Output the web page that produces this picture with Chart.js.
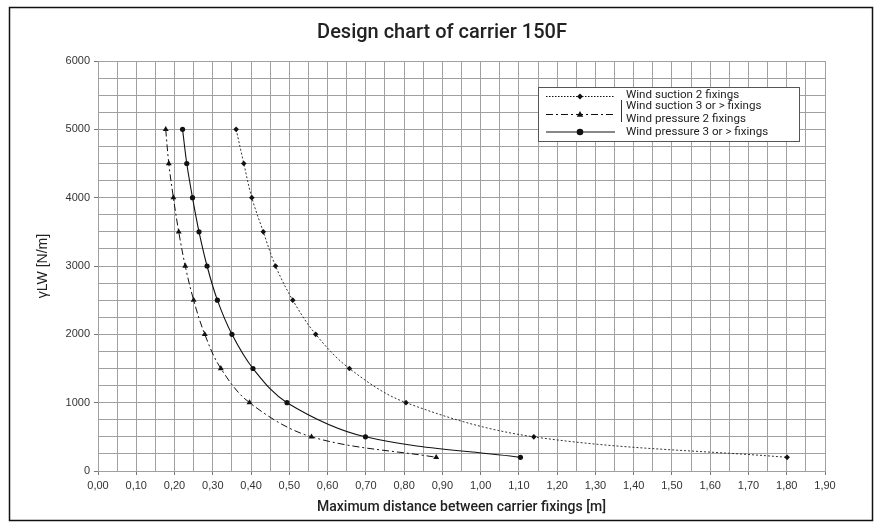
<!DOCTYPE html>
<html>
<head>
<meta charset="utf-8">
<title>Design chart of carrier 150F</title>
<script src="https://cdn.jsdelivr.net/npm/chart.js@4.4.1/dist/chart.umd.min.js"></script>
<style>
  html, body { margin: 0; padding: 0; background: #fff; }
  #wrap { width: 878px; height: 530px; position: relative; }
</style>
</head>
<body>
<div id="wrap"><canvas id="designChart"></canvas></div>
<script>
// ============================================================
// Design chart of carrier 150F
// - x: max distance between fixings [m], y: load γLW [N/m]
// ============================================================

// -------------------------------
// data
// -------------------------------
const chartTitle = "Design chart of carrier 150F";
const xAxisTitle = "Maximum distance between carrier fixings [m]";
const yAxisTitle = "γLW [N/m]";

const seriesNames = [
  "Wind suction 2 fixings",
  "Wind suction 3 or > fixings",
  "Wind pressure 2 fixings",
  "Wind pressure 3 or > fixings"
];

// load levels shared by every curve
const loadLevels = [5000, 4500, 4000, 3500, 3000, 2500, 2000, 1500, 1000, 500, 200];

const suction2Dist  = [0.361, 0.381, 0.402, 0.432, 0.464, 0.509, 0.569, 0.657, 0.805, 1.139, 1.801];
const suction3Dist  = []; // listed in the legend, no curve drawn
const pressure2Dist = [0.177, 0.185, 0.197, 0.211, 0.228, 0.250, 0.279, 0.321, 0.396, 0.558, 0.884];
const pressure3Dist = [0.221, 0.232, 0.247, 0.264, 0.285, 0.312, 0.350, 0.405, 0.494, 0.699, 1.104];

const xMin = 0, xMax = 1.90, xStep = 0.05;
const yMin = 0, yMax = 6000, yStep = 250;

// =========================================================
// helpers
// =========================================================
const toPoints = dist => dist.map((x, i) => ({ x, y: loadLevels[i] }));
const isMajorX = v => Math.round(v * 100) % 10 === 0;
const isMajorY = v => Math.round(v) % 1000 === 0;
const fmtX = v => v.toFixed(2).replace(".", ",");

function drawMarker(ctx, style, x, y, r) {
  ctx.beginPath();
  if (style === "rectRot") {
    ctx.moveTo(x, y - r); ctx.lineTo(x + r, y); ctx.lineTo(x, y + r); ctx.lineTo(x - r, y);
  } else if (style === "triangle") {
    ctx.moveTo(x, y - r); ctx.lineTo(x + r * 0.9, y + r * 0.6); ctx.lineTo(x - r * 0.9, y + r * 0.6);
  } else {
    ctx.arc(x, y, r, 0, Math.PI * 2);
  }
  ctx.closePath();
  ctx.fill();
}

// =========================================================
// frame, title and boxed legend
// =========================================================
const decorPlugin = {
  id: "decor",
  beforeDraw(chart) {
    const ctx = chart.ctx;
    ctx.save();
    ctx.fillStyle = "#fff";
    ctx.fillRect(0, 0, chart.width, chart.height);
    ctx.restore();
  },
  afterDraw(chart) {
    const ctx = chart.ctx;
    const area = chart.chartArea;
    ctx.save();

    // outer frame
    ctx.strokeStyle = "#111";
    ctx.lineWidth = 1.5;
    ctx.strokeRect(9.5, 7.5, 863, 513);

    // title
    ctx.fillStyle = "#222";
    ctx.font = "500 20px Roboto";
    ctx.textAlign = "center";
    ctx.textBaseline = "middle";
    ctx.fillText(chartTitle, 442, 33);

    // legend box
    const bx = area.right - 287, by = area.top + 26, bw = 261, bh = 54;
    ctx.fillStyle = "#fff";
    ctx.fillRect(bx, by, bw, bh);
    ctx.strokeStyle = "#555";
    ctx.lineWidth = 1;
    ctx.strokeRect(bx + 0.5, by + 0.5, bw, bh);

    const rows = [
      { text: seriesNames[0], y: by + 8.5,  lineY: by + 9.5,  dash: [1.5, 1.5], marker: "rectRot", r: 3 },
      { text: seriesNames[1], y: by + 19.5, lineY: null },
      { text: seriesNames[2], y: by + 32.5, lineY: by + 27.5, dash: [7, 3, 2, 3], marker: "triangle", r: 3.6 },
      { text: seriesNames[3], y: by + 45.5, lineY: by + 45,   dash: [], marker: "circle", r: 3.3 }
    ];
    const x0 = bx + 8, x1 = bx + 77, xm = bx + 42;
    ctx.font = "11.6px Roboto";
    ctx.textAlign = "left";
    ctx.textBaseline = "middle";
    rows.forEach(r => {
      ctx.fillStyle = "#222";
      ctx.fillText(r.text, bx + 88, r.y);
      if (r.lineY === null) return;
      ctx.strokeStyle = "#111";
      ctx.lineWidth = 1;
      ctx.setLineDash(r.dash);
      ctx.beginPath();
      ctx.moveTo(x0, r.lineY);
      ctx.lineTo(x1, r.lineY);
      ctx.stroke();
      ctx.setLineDash([]);
      ctx.fillStyle = "#111";
      drawMarker(ctx, r.marker, xm, r.lineY, r.r);
    });
    // small vertical stroke in front of the second entry
    ctx.strokeStyle = "#333";
    ctx.beginPath();
    ctx.moveTo(bx + 83.5, by + 13);
    ctx.lineTo(bx + 83.5, by + 35);
    ctx.stroke();

    ctx.restore();
  }
};

// =========================================================
// chart
// =========================================================
const lineBase = {
  showLine: true,
  borderColor: "#111",
  backgroundColor: "#111",
  borderWidth: 1,
  pointBorderWidth: 0,
  pointHoverRadius: 3,
  tension: 0.35
};

new Chart(document.getElementById("designChart"), {
  type: "scatter",
  data: {
    datasets: [
      { ...lineBase, label: seriesNames[0], data: toPoints(suction2Dist),
        borderDash: [2, 2], pointStyle: "rectRot", pointRadius: 2.8, borderColor: "#333" },
      { ...lineBase, label: seriesNames[1], data: toPoints(suction3Dist) },
      { ...lineBase, label: seriesNames[2], data: toPoints(pressure2Dist),
        borderDash: [7, 3, 2, 3], pointStyle: "triangle", pointRadius: 3.4 },
      { ...lineBase, label: seriesNames[3], data: toPoints(pressure3Dist),
        pointStyle: "circle", pointRadius: 2.6, borderWidth: 1.1 }
    ]
  },
  options: {
    responsive: true,
    maintainAspectRatio: false,
    animation: false,
    layout: { padding: { left: 10, right: 53, top: 61, bottom: 0 } },
    plugins: {
      legend: { display: false },
      tooltip: { enabled: false },
      title: { display: false }
    },
    scales: {
      x: {
        type: "linear",
        min: xMin, max: xMax,
        afterFit: s => { s.height = 59; },
        ticks: {
          stepSize: xStep,
          autoSkip: false,
          maxRotation: 0,
          padding: 4,
          color: "#333",
          font: { family: "Liberation Sans", size: 11 },
          callback: v => isMajorX(v) ? fmtX(v) : ""
        },
        grid: {
          color: "#a0a0a0",
          lineWidth: 1,
          tickLength: 4,
          tickColor: c => (c.tick && isMajorX(c.tick.value)) ? "#777" : "rgba(0,0,0,0)"
        },
        border: { color: "#a0a0a0" },
        title: {
          display: true,
          text: xAxisTitle,
          color: "#222",
          font: { family: "Roboto", size: 14, weight: "500" },
          padding: { top: 0, bottom: 14 }
        }
      },
      y: {
        type: "linear",
        min: yMin, max: yMax,
        afterFit: s => { s.width = 88; },
        ticks: {
          stepSize: yStep,
          autoSkip: false,
          padding: 4,
          color: "#333",
          font: { family: "Liberation Sans", size: 11 },
          callback: v => isMajorY(v) ? String(v) : ""
        },
        grid: {
          color: "#a0a0a0",
          lineWidth: 1,
          tickLength: 4,
          tickColor: c => (c.tick && isMajorY(c.tick.value)) ? "#777" : "rgba(0,0,0,0)"
        },
        border: { color: "#a0a0a0" },
        title: {
          display: true,
          text: yAxisTitle,
          color: "#222",
          font: { family: "Liberation Sans", size: 14 },
          padding: { top: 25, bottom: 0 }
        }
      }
    }
  },
  plugins: [decorPlugin]
});
</script>
</body>
</html>
